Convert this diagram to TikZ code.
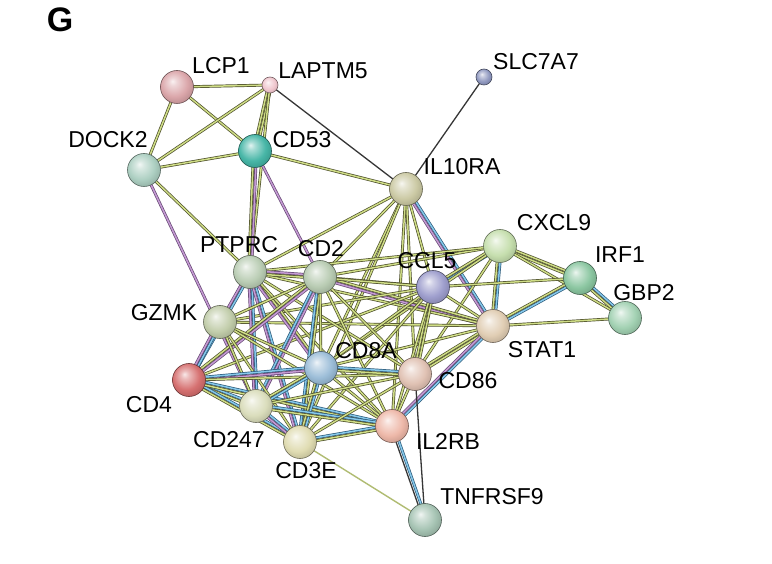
\documentclass[tikz,border=0pt]{standalone}
\usepackage{fontspec}
\setmainfont{Liberation Sans}
\usetikzlibrary{calc}
\pgfdeclarelayer{bg}
\pgfsetlayers{bg,main}
\makeatletter
\pgfdeclareradialshading[tikz@ball]{sphere}{\pgfqpoint{-7bp}{9bp}}{%
 color(0bp)=(tikz@ball!15!white); color(6bp)=(tikz@ball!45!white); color(20bp)=(tikz@ball!95!white); color(31bp)=(tikz@ball!85!black); color(50bp)=(tikz@ball!60!black)}
\makeatother
\definecolor{tmdark}{HTML}{4C4E2A}
\definecolor{tmlight}{HTML}{CFDD86}
\definecolor{exdark}{HTML}{664874}
\definecolor{exlight}{HTML}{C49AD3}
\definecolor{dbdark}{HTML}{2B5A7A}
\definecolor{dblight}{HTML}{86C8EA}
\definecolor{codark}{HTML}{363636}
\definecolor{cLCP1}{HTML}{D9A2A6}
\definecolor{cLAPTM5}{HTML}{EFC3CB}
\definecolor{cSLC7A7}{HTML}{8A93BC}
\definecolor{cDOCK2}{HTML}{A9CDBF}
\definecolor{cCD53}{HTML}{3FB3A3}
\definecolor{cIL10RA}{HTML}{C9C7A0}
\definecolor{cPTPRC}{HTML}{B7CBB1}
\definecolor{cCD2}{HTML}{B5C9AF}
\definecolor{cCCL5}{HTML}{9A9ACB}
\definecolor{cCXCL9}{HTML}{C3DDAA}
\definecolor{cIRF1}{HTML}{86C49D}
\definecolor{cGBP2}{HTML}{9ECFAF}
\definecolor{cGZMK}{HTML}{BFCBA7}
\definecolor{cSTAT1}{HTML}{DFCBB0}
\definecolor{cCD8A}{HTML}{97BAD6}
\definecolor{cCD86}{HTML}{DFBFB0}
\definecolor{cCD4}{HTML}{D46A6A}
\definecolor{cCD247}{HTML}{D8DBB8}
\definecolor{cCD3E}{HTML}{DEDAAE}
\definecolor{cIL2RB}{HTML}{EDB5A5}
\definecolor{cTNFRSF9}{HTML}{A2C1B0}
\tikzset{
 pnode/.style 2 args={circle, inner sep=0pt, minimum size=#2, ball color=#1, shading=sphere, draw=#1!50!black, line width=0.6pt},
 lab/.style={font=\fontsize{23}{23}\selectfont, inner sep=0pt, text=black},
 tm/.style={draw=tmdark, line width=0.7pt, double=tmlight, double distance=1.5pt},
 ex/.style={draw=exdark, line width=0.7pt, double=exlight, double distance=1.5pt},
 db/.style={draw=dbdark, line width=0.7pt, double=dblight, double distance=1.5pt},
 co/.style={draw=codark, line width=1.3pt},
 tmthin/.style={draw=tmlight!85!black, line width=1.4pt}
}
\newcommand\strA[3]{\draw[#3] (#1.center) -- (#2.center);}
\newcommand\strB[4]{\draw[#3] ($(#1.center)!1.45pt!90:(#2.center)$) -- ($(#2.center)!1.45pt!-90:(#1.center)$);\draw[#4] ($(#1.center)!1.45pt!-90:(#2.center)$) -- ($(#2.center)!1.45pt!90:(#1.center)$);}
\begin{document}
\begin{tikzpicture}[x=1pt,y=-1pt]
\useasboundingbox (0,0) rectangle (772,564);
% nodes
\node[pnode={cLCP1}{33pt}] (LCP1) at (177,87) {};
\node[pnode={cLAPTM5}{16pt}] (LAPTM5) at (270,85) {};
\node[pnode={cSLC7A7}{16pt}] (SLC7A7) at (484,77) {};
\node[pnode={cDOCK2}{33pt}] (DOCK2) at (144,170) {};
\node[pnode={cCD53}{33pt}] (CD53) at (255,151) {};
\node[pnode={cIL10RA}{33pt}] (IL10RA) at (406,189) {};
\node[pnode={cPTPRC}{33pt}] (PTPRC) at (250,272) {};
\node[pnode={cCD2}{33pt}] (CD2) at (320,277) {};
\node[pnode={cCCL5}{33pt}] (CCL5) at (433,287) {};
\node[pnode={cCXCL9}{33pt}] (CXCL9) at (500,246) {};
\node[pnode={cIRF1}{33pt}] (IRF1) at (580,278) {};
\node[pnode={cGBP2}{33pt}] (GBP2) at (625,318) {};
\node[pnode={cGZMK}{33pt}] (GZMK) at (220,322) {};
\node[pnode={cSTAT1}{33pt}] (STAT1) at (493,326) {};
\node[pnode={cCD8A}{33pt}] (CD8A) at (321,368) {};
\node[pnode={cCD86}{33pt}] (CD86) at (415,374) {};
\node[pnode={cCD4}{33pt}] (CD4) at (189,380) {};
\node[pnode={cCD247}{33pt}] (CD247) at (256,406) {};
\node[pnode={cCD3E}{33pt}] (CD3E) at (300,442) {};
\node[pnode={cIL2RB}{33pt}] (IL2RB) at (392,426) {};
\node[pnode={cTNFRSF9}{33pt}] (TNFRSF9) at (425,520) {};
% edges
\begin{pgfonlayer}{bg}
\fill[white] (0,0) rectangle (772,564);
\strA{LCP1}{LAPTM5}{tm}
\strA{LCP1}{DOCK2}{tm}
\strA{LCP1}{CD53}{tm}
\strA{LAPTM5}{DOCK2}{tm}
\strB{LAPTM5}{CD53}{tm}{tm}
\strA{LAPTM5}{IL10RA}{co}
\strA{LAPTM5}{PTPRC}{tm}
\strA{DOCK2}{CD53}{tm}
\strA{DOCK2}{PTPRC}{tm}
\strA{DOCK2}{CD247}{ex}
\strB{CD53}{PTPRC}{ex}{tm}
\strA{CD53}{CD2}{ex}
\strA{CD53}{IL10RA}{tm}
\strA{SLC7A7}{IL10RA}{co}
\strA{IL10RA}{PTPRC}{tm}
\strA{IL10RA}{CD2}{tm}
\strA{IL10RA}{CCL5}{tm}
\strB{IL10RA}{STAT1}{db}{ex}
\strA{IL10RA}{CD86}{tm}
\strA{IL10RA}{CD8A}{tm}
\strA{IL10RA}{CD3E}{tm}
\strA{IL10RA}{IL2RB}{tm}
\strB{CXCL9}{IRF1}{tm}{tm}
\strA{CXCL9}{GBP2}{tm}
\strB{CXCL9}{STAT1}{db}{tm}
\strB{CXCL9}{CCL5}{db}{tm}
\strA{CXCL9}{CD2}{tm}
\strA{CXCL9}{PTPRC}{tm}
\strA{CXCL9}{CD86}{tm}
\strA{CXCL9}{CD8A}{tm}
\strB{IRF1}{GBP2}{db}{tm}
\strB{IRF1}{STAT1}{db}{tm}
\strA{IRF1}{CCL5}{tm}
\strA{GBP2}{STAT1}{tm}
\strA{STAT1}{CCL5}{tm}
\strB{STAT1}{CD2}{ex}{tm}
\strA{STAT1}{PTPRC}{tm}
\strB{STAT1}{CD86}{tm}{tm}
\strB{STAT1}{IL2RB}{db}{ex}
\strA{STAT1}{CD8A}{tm}
\strA{STAT1}{GZMK}{tm}
\strA{CCL5}{CD2}{tm}
\strA{CCL5}{PTPRC}{tm}
\strA{CCL5}{CD8A}{tm}
\strB{CCL5}{CD86}{tm}{tm}
\strA{CCL5}{IL2RB}{tm}
\strA{CCL5}{GZMK}{tm}
\strA{CCL5}{CD3E}{tm}
\strA{CCL5}{CD4}{tm}
\strB{PTPRC}{CD2}{ex}{tm}
\strA{PTPRC}{GZMK}{tm}
\strB{PTPRC}{CD4}{db}{ex}
\strB{PTPRC}{CD247}{db}{ex}
\strB{PTPRC}{CD3E}{db}{ex}
\strB{PTPRC}{CD8A}{tm}{ex}
\strA{PTPRC}{CD86}{tm}
\strA{PTPRC}{IL2RB}{tm}
\strA{CD2}{GZMK}{tm}
\strB{CD2}{CD4}{ex}{tm}
\strB{CD2}{CD247}{ex}{db}
\strB{CD2}{CD3E}{tm}{db}
\strA{CD2}{CD8A}{tm}
\strA{CD2}{CD86}{tm}
\strA{CD2}{IL2RB}{tm}
\strB{GZMK}{CD4}{db}{ex}
\strA{GZMK}{CD247}{tm}
\strA{GZMK}{CD8A}{tm}
\strA{GZMK}{CD3E}{tm}
\strA{GZMK}{IL2RB}{tm}
\strB{CD4}{CD8A}{db}{ex}
\strB{CD4}{CD247}{db}{tm}
\strB{CD4}{CD3E}{db}{tm}
\strB{CD4}{IL2RB}{db}{tm}
\strA{CD4}{CD86}{tm}
\strB{CD8A}{CD247}{db}{tm}
\strB{CD8A}{CD3E}{db}{tm}
\strB{CD8A}{CD86}{db}{tm}
\strA{CD8A}{IL2RB}{tm}
\strB{CD247}{CD3E}{db}{ex}
\strB{CD247}{IL2RB}{db}{tm}
\strA{CD247}{CD86}{tm}
\strB{CD3E}{IL2RB}{db}{tm}
\strA{CD3E}{CD86}{tm}
\strA{CD86}{IL2RB}{tm}
\strA{CD86}{TNFRSF9}{co}
\strB{IL2RB}{TNFRSF9}{db}{co}
\strA{CD3E}{TNFRSF9}{tmthin}
\end{pgfonlayer}
% labels
\node[font=\bfseries\fontsize{34}{34}\selectfont, inner sep=0pt] (title) at (60,20) {G};
\node[lab] (lLCP1) at (221,66) {LCP1};
\node[lab] (lLAPTM5) at (323,71) {LAPTM5};
\node[lab] (lDOCK2) at (108,140) {DOCK2};
\node[lab] (lCD53) at (302,140) {CD53};
\node[lab] (lSLC7A7) at (536,62) {SLC7A7};
\node[lab] (lIL10RA) at (462,167) {IL10RA};
\node[lab] (lPTPRC) at (239,245) {PTPRC};
\node[lab] (lCD2) at (321,249) {CD2};
\node[lab] (lCCL5) at (427,261) {CCL5};
\node[lab] (lGZMK) at (164,313) {GZMK};
\node[lab] (lCD8A) at (366,351) {CD8A};
\node[lab] (lCXCL9) at (554,223) {CXCL9};
\node[lab] (lIRF1) at (620,255) {IRF1};
\node[lab] (lGBP2) at (644,293) {GBP2};
\node[lab] (lSTAT1) at (542,350) {STAT1};
\node[lab] (lCD86) at (468,381) {CD86};
\node[lab] (lCD4) at (149,405) {CD4};
\node[lab] (lCD247) at (229,440) {CD247};
\node[lab] (lCD3E) at (306,471) {CD3E};
\node[lab] (lIL2RB) at (448,441) {IL2RB};
\node[lab] (lTNFRSF9) at (492,497) {TNFRSF9};
\end{tikzpicture}
\end{document}
